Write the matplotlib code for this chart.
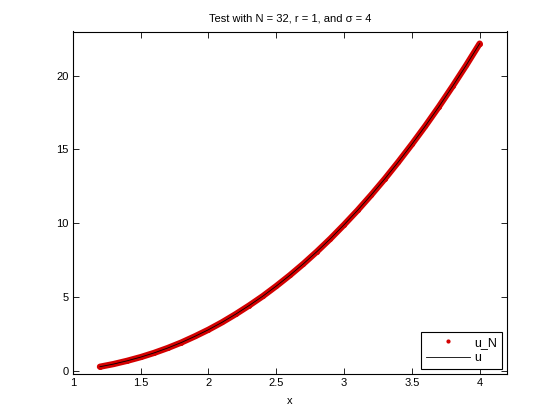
import numpy as np
import matplotlib.pyplot as plt

# values
x_vals = [1.2, 1.3, 1.4, 1.5, 1.6, 1.7, 1.8, 1.9, 2.0, 2.1, 2.2, 2.3, 2.4, 2.5, 2.6,
          2.7, 2.8, 2.9, 3.0, 3.1, 3.2, 3.3, 3.4, 3.5, 3.6, 3.7, 3.8, 3.9, 4.0]
u_vals = [0.26, 0.44, 0.66, 0.91, 1.20, 1.53, 1.90, 2.32, 2.77, 3.27, 3.82, 4.41, 5.04,
          5.73, 6.46, 7.24, 8.07, 8.95, 9.89, 10.87, 11.91, 13.00, 14.15, 15.35, 16.60,
          17.91, 19.28, 20.70, 22.18]
x_ticks = [1, 1.5, 2, 2.5, 3, 3.5, 4]
x_ticklabels = ['1', '1.5', '2', '2.5', '3', '3.5', '4']
y_ticks = [0, 5, 10, 15, 20]

plt.rcParams['font.family'] = ['Liberation Sans', 'DejaVu Sans']
plt.rcParams['font.size'] = 8

fig = plt.figure(figsize=(5.6, 4.2), dpi=100)
ax = fig.add_axes([0.13, 0.11, 0.775, 0.815])

red = '#d40000'
# dense dot band for u_N
ax.plot(x_vals, u_vals, color=red, lw=4.5, solid_capstyle='round', zorder=2)
ax.plot(x_vals, u_vals, ls='none', marker='.', ms=5, color=red, label='u_N', zorder=2)
ax.plot(x_vals, u_vals, color='black', lw=0.6, label='u', zorder=3)

ax.set_xlim(1, 4.2)
ax.set_ylim(-0.22, 23)
ax.set_xticks(x_ticks)
ax.set_xticklabels(x_ticklabels)
ax.set_yticks(y_ticks)
ax.tick_params(direction='in', top=True, right=True, length=4, width=0.6, pad=3)
for s in ax.spines.values():
    s.set_linewidth(0.8)

ax.set_title('Test with N = 32, r = 1, and σ = 4', fontsize=8, pad=7)
ax.set_xlabel('x', labelpad=6)

leg = ax.legend(loc='lower right', fancybox=False, framealpha=1, edgecolor='black',
                borderaxespad=0.4, handlelength=3.5, handletextpad=0.4,
                labelspacing=0.3, borderpad=0.35, fontsize=9, markerscale=0.8)
leg.get_frame().set_linewidth(0.8)

fig.savefig('out.png', dpi=100)
